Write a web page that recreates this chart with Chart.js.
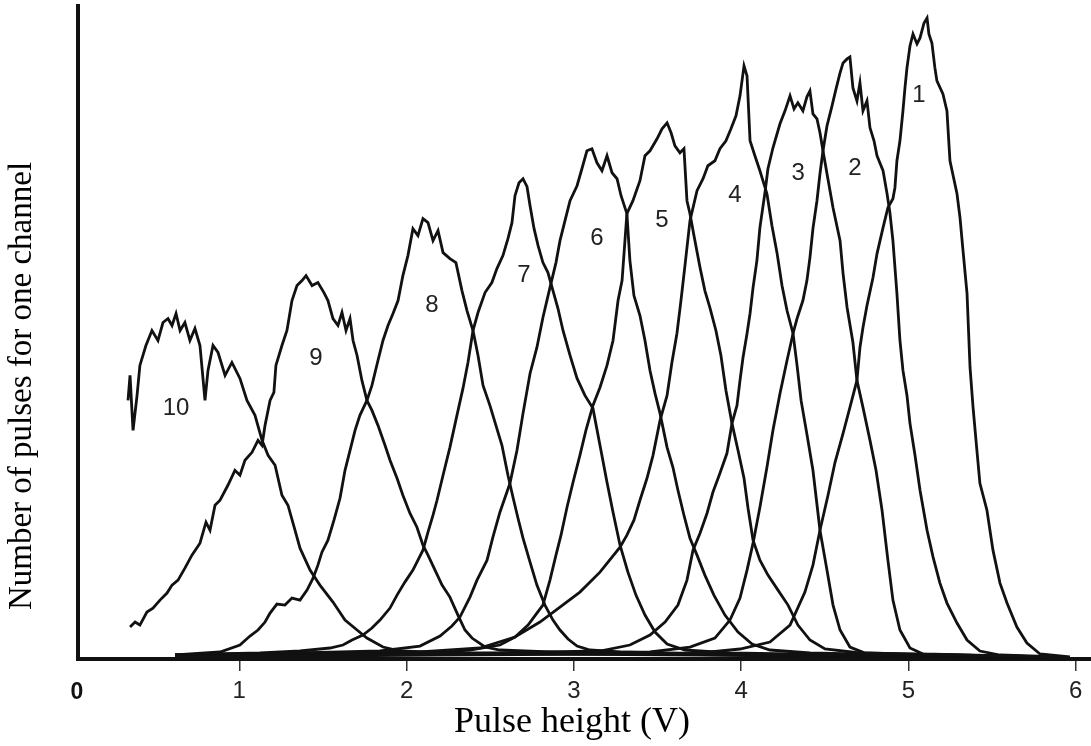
<!DOCTYPE html>
<html>
<head>
<meta charset="utf-8">
<script src="https://cdn.jsdelivr.net/npm/chart.js@4.4.1/dist/chart.umd.min.js"></script>
<style>
html,body{margin:0;padding:0;background:#fff;}
#wrap{width:1091px;height:746px;}
</style>
</head>
<body>
<div id="wrap"><canvas id="c" width="1091" height="746"></canvas></div>
<script>
// Pulse height (V), counts per channel (arbitrary units) for each spectrum 1..10
const curve1 = [[0.616,2],[2.200,4],[3.156,5],[3.754,6],[3.993,10],[4.172,17],[4.292,34],[4.381,67],[4.429,94],[4.471,129],[4.519,164],[4.561,197],[4.609,226],[4.650,252],[4.692,279],[4.710,312],[4.728,332],[4.752,354],[4.788,382],[4.812,406],[4.848,432],[4.877,452],[4.907,461],[4.919,472],[4.931,499],[4.949,519],[4.967,549],[4.979,572],[4.991,592],[5.009,614],[5.027,626],[5.051,616],[5.069,622],[5.093,637],[5.111,642],[5.122,626],[5.140,617],[5.158,592],[5.170,579],[5.206,566],[5.230,549],[5.236,532],[5.248,499],[5.290,466],[5.308,442],[5.326,409],[5.350,366],[5.368,292],[5.386,252],[5.409,209],[5.427,176],[5.469,149],[5.505,109],[5.547,76],[5.589,56],[5.648,32],[5.708,16],[5.786,5],[5.965,2]];
const curve2 = [[0.616,3],[2.000,5],[2.857,6],[3.455,7],[3.694,12],[3.843,21],[3.933,39],[3.993,61],[4.035,89],[4.071,116],[4.112,152],[4.154,192],[4.190,229],[4.232,266],[4.274,299],[4.310,326],[4.334,341],[4.369,359],[4.393,379],[4.411,402],[4.429,431],[4.453,459],[4.471,486],[4.489,509],[4.513,534],[4.543,554],[4.567,571],[4.591,587],[4.609,597],[4.633,601],[4.650,603],[4.668,572],[4.692,559],[4.710,577],[4.728,549],[4.752,559],[4.770,532],[4.794,519],[4.812,504],[4.848,489],[4.872,466],[4.889,447],[4.907,419],[4.931,366],[4.949,319],[4.967,289],[4.991,264],[5.009,236],[5.039,204],[5.069,169],[5.111,129],[5.147,102],[5.188,76],[5.230,56],[5.290,36],[5.350,19],[5.427,8],[5.547,4],[5.906,2]];
const curve3 = [[0.616,3],[1.700,5],[2.558,6],[3.156,8],[3.335,14],[3.455,24],[3.545,37],[3.622,54],[3.676,79],[3.712,109],[3.754,126],[3.796,146],[3.831,167],[3.873,186],[3.915,206],[3.945,236],[3.975,254],[3.993,279],[4.011,302],[4.035,326],[4.053,346],[4.071,372],[4.094,399],[4.112,432],[4.142,467],[4.160,491],[4.190,512],[4.232,536],[4.262,549],[4.292,564],[4.316,551],[4.339,557],[4.369,549],[4.393,563],[4.411,569],[4.429,546],[4.453,541],[4.471,527],[4.489,509],[4.513,486],[4.549,452],[4.591,419],[4.609,386],[4.633,352],[4.668,317],[4.692,279],[4.728,252],[4.770,219],[4.806,189],[4.842,149],[4.877,99],[4.907,59],[4.949,29],[5.009,11],[5.087,5],[5.846,2]];
const curve4 = [[0.616,4],[1.400,6],[2.080,7],[2.439,11],[2.648,22],[2.797,37],[2.917,52],[3.036,67],[3.156,87],[3.276,112],[3.317,124],[3.359,139],[3.395,159],[3.437,181],[3.473,204],[3.515,239],[3.557,264],[3.586,297],[3.616,326],[3.640,359],[3.664,394],[3.694,439],[3.736,469],[3.772,481],[3.801,494],[3.843,499],[3.873,511],[3.909,519],[3.939,531],[3.969,544],[3.993,564],[4.017,594],[4.035,584],[4.053,519],[4.082,504],[4.112,489],[4.154,466],[4.184,434],[4.214,407],[4.244,374],[4.274,349],[4.310,326],[4.334,294],[4.358,259],[4.394,224],[4.429,189],[4.471,129],[4.513,89],[4.549,54],[4.591,29],[4.650,12],[4.740,6],[5.248,4],[5.846,2]];
const curve5 = [[0.616,3],[1.662,6],[2.200,7],[2.379,9],[2.558,14],[2.648,22],[2.726,34],[2.779,46],[2.815,54],[2.857,79],[2.893,104],[2.923,124],[2.959,152],[2.995,177],[3.036,204],[3.072,229],[3.114,254],[3.156,272],[3.198,294],[3.234,319],[3.264,359],[3.288,379],[3.317,446],[3.353,459],[3.395,479],[3.425,504],[3.455,509],[3.497,521],[3.527,531],[3.557,537],[3.581,527],[3.604,514],[3.634,507],[3.658,511],[3.676,459],[3.694,446],[3.718,424],[3.754,392],[3.783,369],[3.813,352],[3.849,329],[3.879,304],[3.909,269],[3.945,236],[3.981,209],[4.017,181],[4.041,151],[4.071,119],[4.112,99],[4.160,84],[4.220,69],[4.280,54],[4.339,34],[4.411,19],[4.501,10],[4.710,6],[5.248,4],[5.846,2]];
const curve6 = [[0.616,4],[1.363,6],[1.841,8],[2.080,13],[2.200,23],[2.271,33],[2.319,42],[2.379,62],[2.421,79],[2.481,99],[2.516,122],[2.558,147],[2.618,176],[2.660,209],[2.696,246],[2.738,286],[2.779,312],[2.815,342],[2.857,372],[2.893,397],[2.917,419],[2.947,439],[2.977,459],[3.019,474],[3.048,491],[3.078,509],[3.108,511],[3.138,497],[3.168,489],[3.198,504],[3.228,487],[3.258,481],[3.282,464],[3.317,446],[3.335,399],[3.359,364],[3.395,344],[3.425,319],[3.455,289],[3.485,266],[3.515,246],[3.557,212],[3.592,192],[3.622,169],[3.658,144],[3.694,121],[3.736,104],[3.783,84],[3.837,64],[3.903,44],[3.981,27],[4.065,15],[4.172,9],[4.411,6],[4.949,4],[5.846,2]];
const curve7 = [[0.616,4],[1.124,6],[1.363,8],[1.542,11],[1.620,14],[1.674,19],[1.739,24],[1.793,31],[1.841,39],[1.901,51],[1.943,64],[1.990,77],[2.038,89],[2.068,99],[2.098,109],[2.128,127],[2.158,144],[2.182,159],[2.218,184],[2.259,212],[2.301,244],[2.337,271],[2.367,297],[2.397,329],[2.427,347],[2.469,367],[2.510,377],[2.540,391],[2.576,404],[2.606,421],[2.630,437],[2.648,464],[2.672,477],[2.696,481],[2.720,473],[2.738,454],[2.762,431],[2.786,414],[2.815,397],[2.845,387],[2.875,369],[2.905,351],[2.935,329],[2.977,304],[3.019,281],[3.066,264],[3.114,251],[3.156,214],[3.198,177],[3.234,147],[3.276,114],[3.323,87],[3.371,64],[3.425,44],[3.485,27],[3.557,15],[3.664,9],[3.933,6],[4.650,4],[5.846,2]];
const curve8 = [[0.616,4],[0.885,7],[1.004,14],[1.064,23],[1.112,29],[1.154,37],[1.184,46],[1.225,55],[1.273,54],[1.315,61],[1.363,59],[1.405,69],[1.441,81],[1.470,94],[1.494,107],[1.530,119],[1.566,139],[1.602,161],[1.632,189],[1.662,209],[1.692,229],[1.721,244],[1.763,259],[1.793,274],[1.829,299],[1.859,319],[1.889,334],[1.919,346],[1.949,359],[1.978,384],[2.008,404],[2.038,431],[2.068,424],[2.098,441],[2.128,437],[2.158,419],[2.188,429],[2.218,407],[2.259,401],[2.295,397],[2.331,369],[2.361,349],[2.397,329],[2.427,304],[2.457,274],[2.498,254],[2.534,234],[2.570,214],[2.606,184],[2.636,162],[2.666,141],[2.696,121],[2.738,97],[2.779,74],[2.827,54],[2.875,39],[2.917,29],[2.965,20],[3.019,13],[3.096,9],[3.276,7],[3.754,5],[4.949,3],[5.846,2]];
const curve9 = [[0.347,32],[0.377,37],[0.406,34],[0.448,47],[0.484,51],[0.526,59],[0.568,66],[0.598,74],[0.634,79],[0.675,91],[0.717,104],[0.765,116],[0.801,137],[0.825,129],[0.855,154],[0.885,159],[0.932,174],[0.974,189],[1.004,184],[1.034,199],[1.076,207],[1.112,219],[1.136,214],[1.154,234],[1.184,259],[1.207,267],[1.219,294],[1.255,314],[1.285,329],[1.315,359],[1.345,374],[1.375,379],[1.399,384],[1.435,374],[1.470,377],[1.506,367],[1.530,359],[1.560,341],[1.590,334],[1.614,347],[1.638,329],[1.662,341],[1.680,319],[1.704,304],[1.733,279],[1.763,259],[1.793,249],[1.829,234],[1.871,214],[1.901,199],[1.943,181],[1.978,164],[2.020,146],[2.062,132],[2.098,114],[2.128,104],[2.170,89],[2.212,74],[2.259,62],[2.307,44],[2.349,29],[2.391,21],[2.469,12],[2.558,9],[2.857,7],[3.455,5],[4.650,3],[5.846,2]];
const curve10 = [[0.335,259],[0.347,284],[0.365,229],[0.389,264],[0.406,294],[0.442,314],[0.478,329],[0.514,319],[0.544,337],[0.574,341],[0.598,334],[0.622,346],[0.646,329],[0.675,337],[0.705,319],[0.735,331],[0.765,314],[0.795,259],[0.813,289],[0.843,314],[0.873,307],[0.915,284],[0.956,297],[1.004,281],[1.046,259],[1.094,244],[1.136,219],[1.172,204],[1.214,194],[1.255,164],[1.291,154],[1.333,129],[1.363,111],[1.423,89],[1.482,74],[1.560,57],[1.632,39],[1.704,29],[1.763,21],[1.859,12],[1.961,8],[2.259,6],[2.857,5],[3.754,4],[4.949,2]];

const curveNames = ['1','2','3','4','5','6','7','8','9','10'];
// label anchor per curve: [pulse height V, counts]
const labelX = [5.063, 4.680, 4.340, 3.963, 3.527, 3.138, 2.702, 2.152, 1.458, 0.622];
const labelY = [564, 491, 486, 464, 439, 421, 384, 354, 301, 251];
const xTickValues = [1, 2, 3, 4, 5, 6];

const curves = [curve1, curve2, curve3, curve4, curve5, curve6, curve7, curve8, curve9, curve10];

const datasets = curves.map((c, i) => ({
  label: curveNames[i],
  data: c.map(p => ({x: p[0], y: p[1]})),
  borderColor: '#111',
  borderWidth: 2.8,
  pointRadius: 0,
  tension: 0,
  fill: false
}));

const decor = {
  id: 'decor',
  afterDraw(chart) {
    const ctx = chart.ctx;
    const xs = chart.scales.x, ys = chart.scales.y;
    ctx.save();
    ctx.fillStyle = '#222';
    ctx.textAlign = 'center';
    ctx.textBaseline = 'middle';
    ctx.font = '24px "Liberation Sans", Arial, sans-serif';
    for (let i = 0; i < curveNames.length; i++) {
      ctx.fillText(curveNames[i], xs.getPixelForValue(labelX[i]), ys.getPixelForValue(labelY[i]));
    }
    // bold origin label
    ctx.fillStyle = '#111';
    ctx.font = 'bold 23px "Liberation Sans", Arial, sans-serif';
    ctx.fillText('0', chart.chartArea.left - 1, 693);
    // axis titles
    ctx.fillStyle = '#000';
    ctx.font = '36px "Liberation Serif", "Times New Roman", serif';
    ctx.fillText('Pulse height (V)', 572, 723);
    ctx.font = '33px "Liberation Serif", "Times New Roman", serif';
    ctx.translate(22, 386);
    ctx.rotate(-Math.PI / 2);
    ctx.fillText('Number of pulses for one channel', 0, 0);
    ctx.restore();
  }
};

new Chart(document.getElementById('c'), {
  type: 'line',
  data: { datasets },
  options: {
    responsive: false,
    animation: false,
    layout: { padding: { top: 6, right: 0, left: 0, bottom: 0 } },
    plugins: { legend: { display: false }, tooltip: { enabled: false } },
    scales: {
      x: {
        type: 'linear',
        min: 0.036,
        max: 6.091,
        offset: false,
        afterFit(s) { s.height = 87; },
        afterBuildTicks(s) { s.ticks = xTickValues.map(v => ({ value: v })); },
        ticks: {
          color: '#222',
          font: { size: 24, family: '"Liberation Sans", Arial, sans-serif' },
          padding: 6,
          maxRotation: 0,
          autoSkip: false,
          callback: v => String(v)
        },
        grid: { display: true, drawOnChartArea: false, drawTicks: true, tickLength: 12, color: '#333', lineWidth: 1.5 },
        border: { display: true, color: '#111', width: 4 }
      },
      y: {
        type: 'linear',
        min: 0,
        max: 654,
        afterFit(s) { s.width = 78; },
        ticks: { display: false },
        grid: { display: false, drawTicks: false },
        border: { display: true, color: '#111', width: 4 }
      }
    }
  },
  plugins: [decor]
});
</script>
</body>
</html>
